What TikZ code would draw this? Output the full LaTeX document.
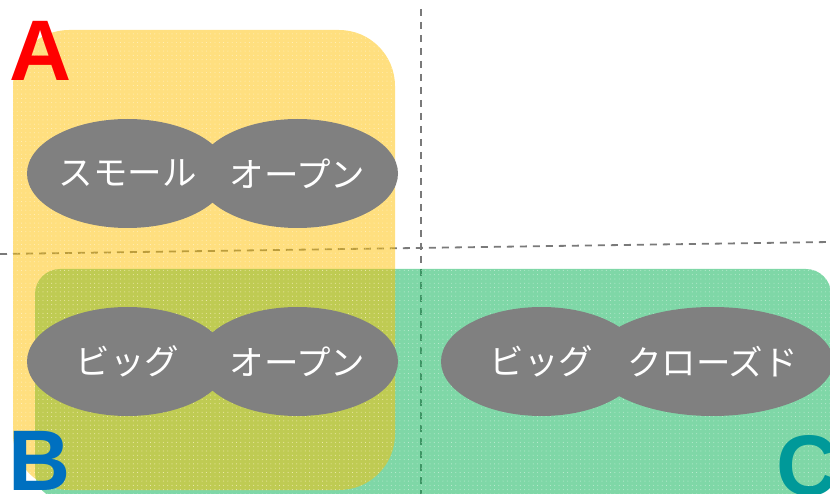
\documentclass[tikz,border=0pt]{standalone}
\usepackage{fontspec}
\setmainfont{Liberation Sans}
\newfontfamily\jpfont{Noto Sans CJK JP}
\usetikzlibrary{shapes.geometric,patterns.meta}
\definecolor{ygold}{HTML}{FFC000}
\definecolor{ggreen}{HTML}{00B050}
\definecolor{egray}{HTML}{808080}
\definecolor{dashgray}{HTML}{7A7A7A}
\definecolor{lred}{HTML}{FF0000}
\definecolor{lblue}{HTML}{0070C0}
\definecolor{lteal}{HTML}{009999}
\begin{document}
\begin{tikzpicture}[x=1pt,y=-1pt,
  guide/.style={draw=dashgray,line width=1.8pt,dash pattern=on 7pt off 6pt},
  oval/.style={ellipse,fill=egray,minimum width=201pt,minimum height=109pt,inner sep=0pt,text=white,font=\jpfont\fontsize{34.5}{34.5}\selectfont},
  biglabel/.style={anchor=base west,inner sep=0pt,font=\bfseries\fontsize{86}{86}\selectfont},
  dotpat/.style={pattern={Dots[distance=4.3pt,radius=0.45pt]},pattern color=white,fill opacity=0.55},
  region/.style={fill opacity=0.5}
]
\useasboundingbox (0,0) rectangle (830,494);
\clip (0,0) rectangle (830,494);
% guide lines
\coordinate (vtop) at (421,9);
\coordinate (vbot) at (421,494);
\coordinate (hl) at (0,254);
\coordinate (hr) at (830,242);
\draw[guide] (vtop) -- (vbot);
\draw[guide] (hl) -- (hr);
% regions
\fill[ggreen,region,rounded corners=25pt] (35,269) rectangle (831,498);
\path[dotpat,rounded corners=25pt] (35,269) rectangle (831,498);
\fill[ygold,region,rounded corners=56pt] (13,30) rectangle (395,490);
\path[dotpat,rounded corners=56pt] (13,30) rectangle (395,490);
% ovals
\node[oval] (a1) at (127.5,173.5) {スモール};
\node[oval] (a2) at (297.5,173.5) {オープン};
\node[oval] (b1) at (127.5,361.5) {ビッグ};
\node[oval] (b2) at (297.5,361.5) {オープン};
\node[oval] (c1) at (541.5,361.5) {ビッグ};
\node[oval] (c2) at (712.5,361.5) {クローズド};
% labels
\node[biglabel,text=lred] (la) at (9,81) {A};
\node[biglabel,text=lblue] (lb) at (8,490) {B};
\node[biglabel,text=lteal] (lc) at (776,495) {C};
\end{tikzpicture}
\end{document}
